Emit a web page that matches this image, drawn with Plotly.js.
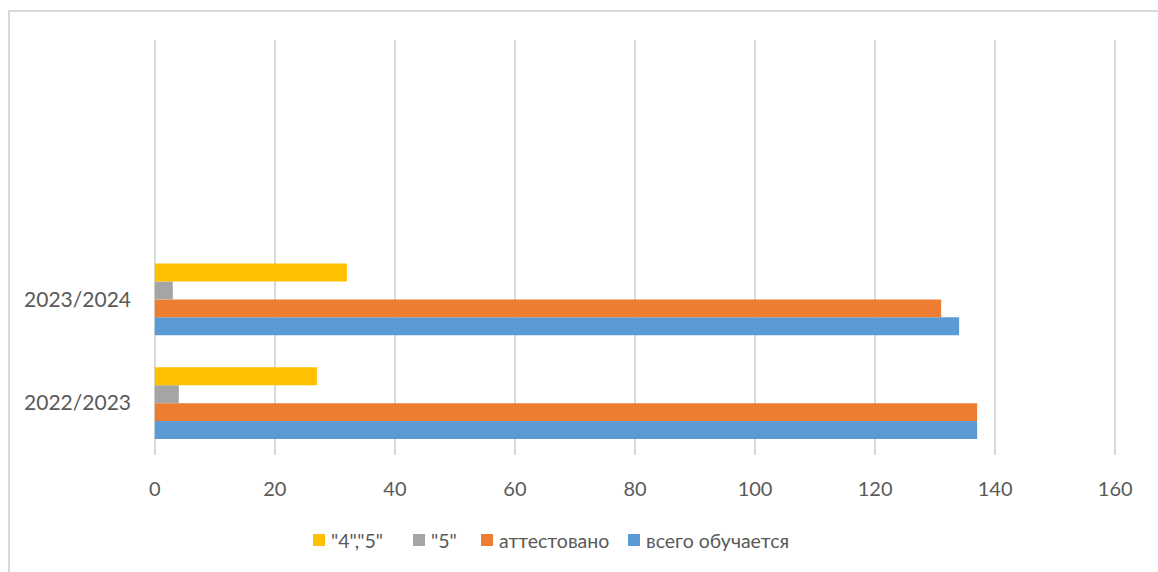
<!DOCTYPE html>
<html>
<head>
<meta charset="utf-8">
<script src="https://cdn.plot.ly/plotly-3.0.1.min.js"></script>
<style>
html,body{margin:0;padding:0;background:#fff;}
#chart{width:1158px;height:572px;position:relative;}
#frame{position:absolute;left:8px;top:10px;width:1160px;height:580px;border:2px solid #d9d9d9;box-sizing:border-box;pointer-events:none;}
</style>
</head>
<body>
<div id="chart"></div>
<div id="frame"></div>
<script>
const categories = ["2022/2023", "2023/2024"];
const categoryOrder = ["2022/2023", "2023/2024", " ", "  "];
const seriesNames = ["всего обучается", "аттестовано", "\"5\"", "\"4\",\"5\""];
const totalStudents = [137, 134];
const certified = [137, 131];
const fives = [4, 3];
const foursFives = [27, 32];
const colors = ["#5B9BD5", "#ED7D31", "#A5A5A5", "#FFC000"];
const xTicks = [0, 20, 40, 60, 80, 100, 120, 140, 160];

const values = [totalStudents, certified, fives, foursFives];
const traces = values.map((v, i) => ({
  type: "bar",
  orientation: "h",
  name: seriesNames[i],
  y: categories,
  x: v,
  marker: {color: colors[i]},
  hoverinfo: "x+name",
  showlegend: false
}));

// plot-area geometry (pixels) used to place a custom legend
const M = {l: 153, r: 41, t: 40, b: 117};
const W = 1158, H = 572;
const pw = W - M.l - M.r, ph = H - M.t - M.b;
const px = x => (x - M.l) / pw;
const py = y => (H - M.b - y) / ph;

// legend layout: order shown left-to-right (reversed series order)
const legendOrder = [3, 2, 1, 0];
const legendSymbolX = [313, 413, 481, 628];
const legendY = 540;
const shapes = [], annotations = [];
legendOrder.forEach((si, k) => {
  const sx = legendSymbolX[k];
  shapes.push({
    type: "rect", xref: "paper", yref: "paper",
    x0: px(sx), x1: px(sx + 12), y0: py(legendY + 6), y1: py(legendY - 6),
    fillcolor: colors[si], line: {width: 0}
  });
  annotations.push({
    xref: "paper", yref: "paper", x: px(sx + 16), y: py(legendY),
    xanchor: "left", yanchor: "middle", showarrow: false,
    text: seriesNames[si], font: {size: 19.5, color: "#595959"}
  });
});

const layout = {
  width: W,
  height: H,
  margin: M,
  paper_bgcolor: "rgba(0,0,0,0)",
  plot_bgcolor: "rgba(0,0,0,0)",
  barmode: "group",
  bargap: 0.31,
  bargroupgap: 0,
  font: {family: "Lato, 'Open Sans', sans-serif", size: 20, color: "#595959"},
  xaxis: {
    range: [-0.3, 160.3],
    tickvals: xTicks,
    ticktext: xTicks.map(String),
    showgrid: true,
    gridcolor: "#d9d9d9",
    gridwidth: 1.5,
    zeroline: false,
    showline: false,
    ticks: "",
    ticklabelstandoff: 20,
    tickfont: {size: 20, color: "#595959"},
    fixedrange: true
  },
  yaxis: {
    type: "category",
    categoryorder: "array",
    categoryarray: categoryOrder,
    range: [-0.5, 3.5],
    showgrid: false,
    zeroline: false,
    showline: false,
    ticks: "",
    ticklabelstandoff: 21,
    tickfont: {size: 21, color: "#595959"},
    fixedrange: true
  },
  showlegend: false,
  shapes: shapes,
  annotations: annotations
};

Plotly.newPlot("chart", traces, layout, {displayModeBar: false, staticPlot: true});
</script>
</body>
</html>
